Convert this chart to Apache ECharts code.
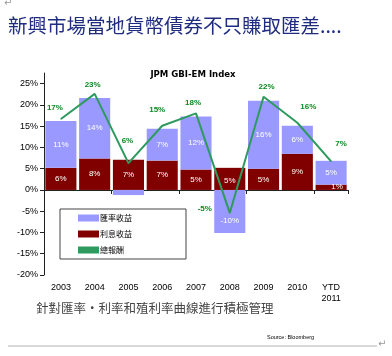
<!DOCTYPE html>
<html><head><meta charset="utf-8">
<script src="https://cdn.jsdelivr.net/npm/echarts@6/dist/echarts.min.js"></script>
<style>html,body{margin:0;padding:0;background:#fff}#c{width:392px;height:356px}</style>
</head><body><div id="c"></div>
<script>
const categories = ['2003','2004','2005','2006','2007','2008','2009','2010','YTD\n2011'];
const interestValues = [5.2, 7.4, 7.1, 6.9, 4.8, 5.2, 5.0, 8.5, 1.25];
const fxValues = [11.0, 14.2, -1.2, 7.5, 12.5, -10.1, 16.0, 6.6, 5.6];
const totalValues = [16.7, 22.6, 6.3, 15.1, 18.0, -5.4, 21.9, 15.8, 6.7];
const interestLabels = ['6%','8%','7%','7%','5%','5%','5%','9%','1%'];
const fxLabels = ['11%','14%','','7%','12%','-10%','16%','6%','5%'];
const totalLabels = ['17%','23%','6%','15%','18%','-5%','22%','16%','7%'];
const yTicks = ['-20%','-15%','-10%','-5%','0%','5%','10%','15%','20%','25%'];

const totalLabelOffsets = [[-6,-11],[-2,-9],[-1,-22],[-5,-16],[-3,-11],[-25,-4],[3,-10],[11,-16],[10,-18]];
const interestLabelOffsets = [[0,0],[0,0],[0,0],[0,0],[0,0],[0,2],[0,0],[0,0],[6,0]];
const fxLabelOffsets = [[0,0],[0,0],[0,0],[0,0],[0,0],[0,9],[0,0],[0,0],[0,0]];

const chart = echarts.init(document.getElementById('c'));
const base = 'Liberation Sans, Arial, sans-serif';
chart.setOption({
  animation: false,
  title: {
    text: 'JPM GBI-EM Index', left: 188, top: 65, textAlign: 'center',
    textStyle: {fontFamily: 'DejaVu Sans Condensed, Liberation Sans', fontSize: 9.5, fontWeight: 'bold', color: '#000'}
  },
  grid: {left: 44, right: 44, top: 73, bottom: 81},
  legend: {
    orient: 'vertical', left: 60, top: 209,
    padding: [5, 54, 5, 18], itemGap: 8, itemWidth: 21, itemHeight: 7,
    backgroundColor: '#fff', borderColor: '#444', borderWidth: 1,
    textStyle: {fontSize: 8, color: '#000', fontFamily: 'Noto Sans CJK TC', padding: [0,0,0,-4]},
    data: [
      {name: '匯率收益', icon: 'rect'},
      {name: '利息收益', icon: 'rect'},
      {name: '總報酬', icon: 'rect', itemStyle: {color: '#2E9A5E'}}
    ]
  },
  xAxis: [{
    type: 'category', data: categories, position: 'bottom',
    axisLine: {onZero: true, lineStyle: {color: '#222', width: 1}},
    axisTick: {show: true, length: 4, lineStyle: {color: '#222'}},
    axisLabel: {show: false}
  }, {
    type: 'category', data: categories, position: 'bottom',
    axisLine: {show: false, onZero: false}, axisTick: {show: false},
    axisLabel: {margin: 7, fontSize: 9, color: '#000', fontFamily: base, lineHeight: 11}
  }],
  yAxis: {
    type: 'value', min: -20, max: 27.5, interval: 5,
    axisLine: {show: true, lineStyle: {color: '#222'}},
    axisTick: {show: true, length: 4, lineStyle: {color: '#222'}},
    splitLine: {show: false},
    axisLabel: {showMaxLabel: false, fontSize: 9, color: '#000', fontFamily: base, margin: 6,
      formatter: v => { const i = Math.round((v + 20) / 5); return (v % 5 === 0 && yTicks[i]) ? yTicks[i] : ''; }}
  },
  series: [{
    name: '利息收益', type: 'bar', stack: 's', xAxisIndex: 0, barCategoryGap: '8%',
    data: interestValues, itemStyle: {color: '#800000'},
    label: {show: true, position: 'inside', color: '#fff', fontSize: 8, fontFamily: base,
      formatter: p => interestLabels[p.dataIndex]},
    labelLayout: p => ({dx: interestLabelOffsets[p.dataIndex][0], dy: interestLabelOffsets[p.dataIndex][1]})
  }, {
    name: '匯率收益', type: 'bar', stack: 's', xAxisIndex: 0, barCategoryGap: '8%',
    data: fxValues, itemStyle: {color: '#9999FF'},
    label: {show: true, position: 'inside', color: '#fff', fontSize: 8, fontFamily: base,
      formatter: p => fxLabels[p.dataIndex]},
    labelLayout: p => ({dx: fxLabelOffsets[p.dataIndex][0], dy: fxLabelOffsets[p.dataIndex][1]})
  }, {
    name: '總報酬', type: 'line', xAxisIndex: 0, data: totalValues,
    symbol: 'circle', symbolSize: 1, showSymbol: true,
    lineStyle: {color: '#2E9A5E', width: 2}, itemStyle: {color: '#2E9A5E'},
    label: {show: true, position: 'inside', color: '#0A8A1E', fontSize: 8, fontWeight: 'bold', fontFamily: base,
      formatter: p => totalLabels[p.dataIndex]},
    labelLayout: p => ({dx: totalLabelOffsets[p.dataIndex][0], dy: totalLabelOffsets[p.dataIndex][1]})
  }],
  graphic: [
    {type: 'text', left: 8, top: 16, style: {text: '新興市場當地貨幣債券不只賺取匯差....', fill: '#1F2C80', font: '19.5px "Noto Sans CJK TC"'}},
    {type: 'text', left: 36, top: 302, style: {text: '針對匯率・利率和殖利率曲線進行積極管理', fill: '#444', font: '12.5px "Noto Sans CJK TC"'}},
    {type: 'text', left: 267, top: 334, style: {text: 'Source: Bloomberg', fill: '#000', font: '5.5px Liberation Sans'}},
    {type: 'rect', shape: {x: 8, y: 345, width: 369, height: 2}, style: {fill: '#d8d8d8'}},
    {type: 'text', left: 4, top: -2, style: {text: '↵', fill: '#999', font: '10px DejaVu Sans'}},
    {type: 'text', left: 378, top: 339, style: {text: '↵', fill: '#999', font: '10px DejaVu Sans'}}
  ]
});
</script></body></html>
